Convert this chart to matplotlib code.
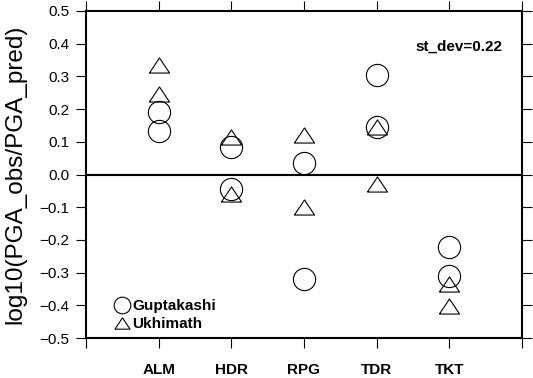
import numpy as np
import matplotlib.pyplot as plt

plt.rcParams['font.family'] = ['Liberation Sans', 'DejaVu Sans']

# stations and residuals (two events per station)
stations = ['ALM', 'HDR', 'RPG', 'TDR', 'TKT']
guptakashi = [[0.192, 0.134], [0.083, -0.045], [0.034, -0.319],
              [0.305, 0.146], [-0.221, -0.310]]
ukhimath = [[0.335, 0.246], [0.115, -0.060], [0.120, -0.100],
            [0.145, -0.030], [-0.336, -0.403]]
st_dev = 0.22

# triangle a bit flatter than matplotlib's default
tri = [(-1, -0.75), (1, -0.75), (0, 0.75), (-1, -0.75)]

fig = plt.figure(figsize=(5.33, 3.78), dpi=100)
ax = fig.add_axes([86/533, 1 - 338/378, (522 - 86)/533, (338 - 11)/378])

for i, name in enumerate(stations):
    x = i + 1
    ax.plot([x, x], guptakashi[i], 'o', ms=16, mfc='none', mec='black',
            mew=0.8, ls='none', label='Guptakashi' if i == 0 else None)
    ax.plot([x, x], ukhimath[i], marker=tri, ms=14.5, mfc='none', mec='black',
            mew=0.8, ls='none', label='Ukhimath' if i == 0 else None)

ax.axhline(0, color='black', lw=1.5)

ax.set_xlim(0, 6)
ax.set_ylim(-0.5, 0.5)
ax.set_xticks(range(7))
ax.set_xticklabels([''] + stations + [''], fontweight='bold', fontsize=11)
yt = np.round(np.arange(-0.5, 0.51, 0.1), 1)
ax.set_yticks(yt)
ax.set_yticklabels([('%.1f' % v).replace('-', '\u2212') if v != 0 else '0.0'
                    for v in yt], fontsize=11)
ax.tick_params(direction='out', length=7, width=0.8, top=True, right=True,
               colors='black')
ax.tick_params(axis='x', pad=11)
ax.tick_params(axis='y', pad=5)
for s in ax.spines.values():
    s.set_linewidth(1.5)

ax.set_ylabel('log10(PGA_obs/PGA_pred)', fontsize=17.5, labelpad=9)

ax.text(0.955, 0.89, 'st_dev=%.2f' % st_dev, transform=ax.transAxes,
        ha='right', va='center', fontsize=11, fontweight='bold')

leg = ax.legend(loc='lower left', bbox_to_anchor=(0.053, 0.0), frameon=False,
                markerscale=0.75, handlelength=0.8, handletextpad=0.25,
                labelspacing=0.25, borderaxespad=0.05,
                prop={'weight': 'bold', 'size': 11})

fig.savefig('out.png', dpi=100)
